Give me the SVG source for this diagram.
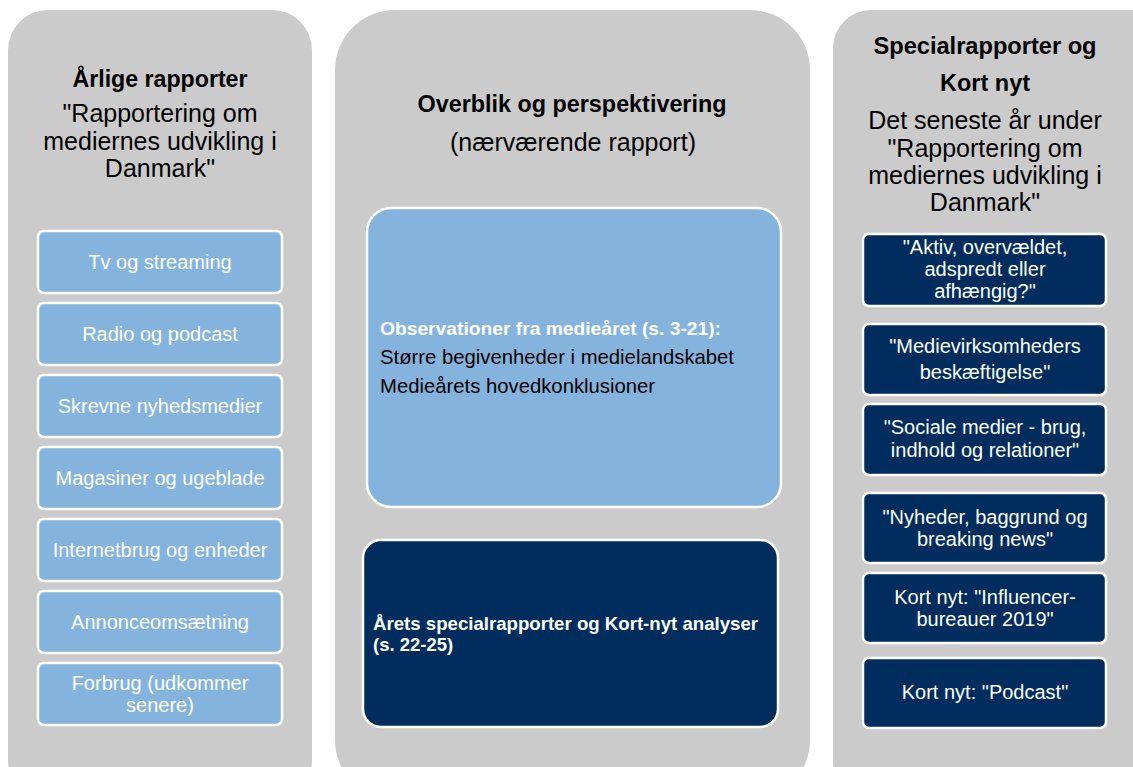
<svg xmlns="http://www.w3.org/2000/svg" width="1133" height="767" viewBox="0 0 1133 767">
<style>
.panel{fill:#CBCBCB}
.lb{fill:#84B4DD;stroke:#FFFFFF;stroke-width:2.5}
.db{fill:#002D5E;stroke:#FFFFFF;stroke-width:2.5}
text{font-family:"Liberation Sans",Arial,sans-serif}
.h{font-size:23.5px;font-weight:bold;fill:#000;text-anchor:middle}
.s{font-size:25px;fill:#000;text-anchor:middle}
.lt{font-size:20px;fill:#FFFFFF;text-anchor:middle}
.rt{font-size:20px;fill:#FFFFFF;text-anchor:middle}
</style>
<rect width="1133" height="767" fill="#FFFFFF"/>
<g id="panel-left">
<rect class="panel" x="8" y="10" width="304" height="790" rx="40"/>
<text class="h" x="160" y="87" textLength="175" lengthAdjust="spacingAndGlyphs">Årlige rapporter</text>
<text class="s" x="160" y="122">"Rapportering om</text>
<text class="s" x="160" y="150">mediernes udvikling i</text>
<text class="s" x="160" y="177">Danmark"</text>
</g>
<g id="panel-middle">
<rect class="panel" x="335" y="10" width="475" height="790" rx="60"/>
<text class="h" x="572" y="112" textLength="309" lengthAdjust="spacingAndGlyphs">Overblik og perspektivering</text>
<text class="s" x="573" y="151">(nærværende rapport)</text>
</g>
<g id="panel-right">
<rect class="panel" x="833" y="10" width="340" height="790" rx="38"/>
<text class="h" x="985" y="54" textLength="223" lengthAdjust="spacingAndGlyphs">Specialrapporter og</text>
<text class="h" x="985" y="91">Kort nyt</text>
<text class="s" x="985" y="129">Det seneste år under</text>
<text class="s" x="985" y="157">"Rapportering om</text>
<text class="s" x="985" y="184">mediernes udvikling i</text>
<text class="s" x="985" y="211">Danmark"</text>
</g>
<g id="left-1"><rect class="lb" x="38" y="231" width="244" height="62" rx="6"/><text class="lt" x="160" y="269">Tv og streaming</text></g>
<g id="left-2"><rect class="lb" x="38" y="303" width="244" height="62" rx="6"/><text class="lt" x="160" y="341">Radio og podcast</text></g>
<g id="left-3"><rect class="lb" x="38" y="375" width="244" height="62" rx="6"/><text class="lt" x="160" y="413">Skrevne nyhedsmedier</text></g>
<g id="left-4"><rect class="lb" x="38" y="447" width="244" height="62" rx="6"/><text class="lt" x="160" y="485">Magasiner og ugeblade</text></g>
<g id="left-5"><rect class="lb" x="38" y="519" width="244" height="62" rx="6"/><text class="lt" x="160" y="557">Internetbrug og enheder</text></g>
<g id="left-6"><rect class="lb" x="38" y="591" width="244" height="62" rx="6"/><text class="lt" x="160" y="629">Annonceomsætning</text></g>
<g id="left-7"><rect class="lb" x="38" y="663" width="244" height="62" rx="6"/><text class="lt" x="160" y="690">Forbrug (udkommer</text><text class="lt" x="160" y="712">senere)</text></g>
<g id="mid-observations">
<rect class="lb" x="367" y="208" width="414" height="299" rx="24"/>
<text x="380" y="335" font-size="19" font-weight="bold" fill="#FFFFFF" textLength="341" lengthAdjust="spacingAndGlyphs">Observationer fra medieåret (s. 3-21):</text>
<text x="380" y="364" font-size="20.3" fill="#000">Større begivenheder i medielandskabet</text>
<text x="380" y="393" font-size="20.3" fill="#000">Medieårets hovedkonklusioner</text>
</g>
<g id="mid-special">
<rect class="db" x="363" y="540" width="415" height="187" rx="18"/>
<text x="373" y="630" font-size="18.5" font-weight="bold" fill="#FFFFFF" textLength="385" lengthAdjust="spacingAndGlyphs">Årets specialrapporter og Kort-nyt analyser</text>
<text x="373" y="651" font-size="18.5" font-weight="bold" fill="#FFFFFF">(s. 22-25)</text>
</g>
<g id="right-1"><rect class="db" x="863" y="234" width="243" height="72" rx="6"/><text class="rt" x="985" y="254">"Aktiv, overvældet,</text><text class="rt" x="985" y="276">adspredt eller</text><text class="rt" x="985" y="298">afhængig?"</text></g>
<g id="right-2"><rect class="db" x="863" y="324" width="243" height="71" rx="6"/><text class="rt" x="985" y="353">"Medievirksomheders</text><text class="rt" x="985" y="379">beskæftigelse"</text></g>
<g id="right-3"><rect class="db" x="863" y="404" width="243" height="71" rx="6"/><text class="rt" x="985" y="434">"Sociale medier - brug,</text><text class="rt" x="985" y="457">indhold og relationer"</text></g>
<g id="right-4"><rect class="db" x="863" y="493" width="243" height="70" rx="6"/><text class="rt" x="985" y="524">"Nyheder, baggrund og</text><text class="rt" x="985" y="546">breaking news"</text></g>
<g id="right-5"><rect class="db" x="863" y="573" width="243" height="70" rx="6"/><text class="rt" x="985" y="604">Kort nyt: "Influencer-</text><text class="rt" x="985" y="626">bureauer 2019"</text></g>
<g id="right-6"><rect class="db" x="863" y="658" width="243" height="70" rx="6"/><text class="rt" x="985" y="699">Kort nyt: "Podcast"</text></g>
<g id="connectors"></g>
</svg>
